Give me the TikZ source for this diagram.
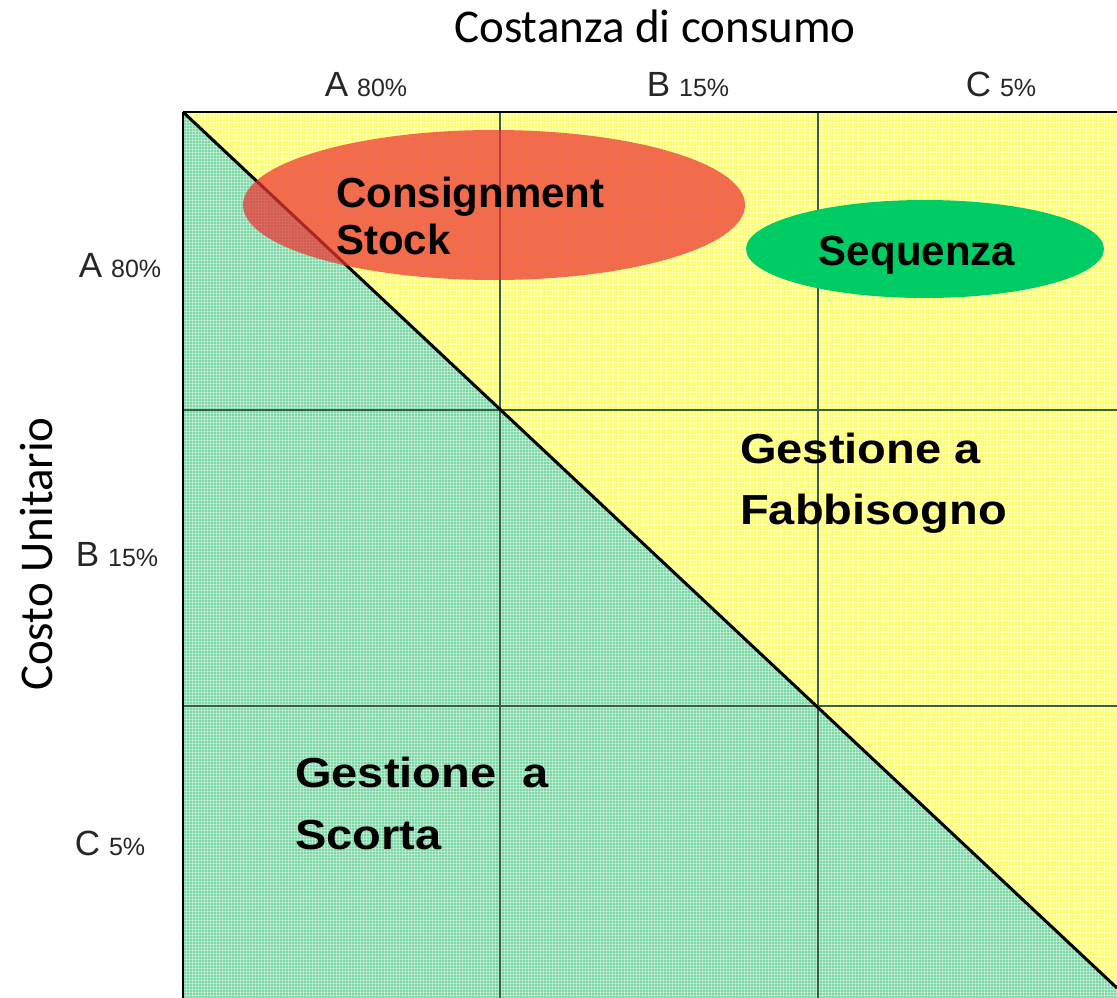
\documentclass[tikz,border=0pt]{standalone}
\usepackage{fontspec}
\setmainfont{Liberation Sans}
\newfontfamily\calfont{Carlito}
\usetikzlibrary{shapes.geometric,patterns}
\definecolor{gfill}{RGB}{122,216,164}
\definecolor{yfill}{RGB}{255,255,105}
\definecolor{rfill}{RGB}{236,52,50}
\definecolor{sgreen}{RGB}{0,204,102}
\definecolor{gridc}{RGB}{55,95,65}
\newcommand{\axl}[2]{\fontsize{35}{36}\selectfont #1\hspace{9pt}\fontsize{25}{28}\selectfont #2}
\newcommand{\wide}[1]{\scalebox{1.12}[1]{#1}}
\begin{document}
\begin{tikzpicture}[x=1pt,y=-1pt,
  bigtxt/.style={font=\bfseries\fontsize{42}{50}\selectfont, anchor=base west, inner sep=0pt},
  axlab/.style={anchor=base, inner sep=0pt, text=black!85},
  title/.style={font=\calfont\fontsize{47}{52}\selectfont, inner sep=0pt},
  gridline/.style={draw=gridc, line width=1.2pt},
  frameline/.style={draw=black, line width=2.2pt},
  diagline/.style={draw=black, line width=3pt}]
\useasboundingbox (0,0) rectangle (1117,998);
% corner coordinates
\coordinate (tl) at (183,112);
\coordinate (tr) at (1117,112);
\coordinate (bl) at (183,998);
\coordinate (br) at (1117,998);
\coordinate (dend) at (1117,988);
\coordinate (v1t) at (500,112);
\coordinate (v1b) at (500,998);
\coordinate (v2t) at (818,112);
\coordinate (v2b) at (818,998);
\coordinate (h1l) at (183,410);
\coordinate (h1r) at (1117,410);
\coordinate (h2l) at (183,706);
\coordinate (h2r) at (1117,706);
% regions
\fill[yfill] (tl) rectangle (br);
\fill[gfill] (tl) -- (dend) -- (br) -- (bl) -- cycle;
\fill[pattern=grid, pattern color=white, opacity=0.4] (tl) rectangle (br);
% grid
\draw[gridline] (v1t) -- (v1b);
\draw[gridline] (v2t) -- (v2b);
\draw[gridline] (h1l) -- (h1r);
\draw[gridline] (h2l) -- (h2r);
% frame and diagonal
\draw[frameline] (tl) -- (tr);
\draw[frameline] (tl) -- (bl);
\draw[diagline] (tl) -- (dend);
% ellipses
\node[ellipse, fill=rfill, fill opacity=0.72, minimum width=502pt, minimum height=150pt, inner sep=0pt] (cons) at (494,205) {};
\node[ellipse, fill=sgreen, minimum width=358pt, minimum height=98pt, inner sep=0pt] (seq) at (925,249) {};
% texts
\node[bigtxt] (c1) at (336,207) {Consignment};
\node[bigtxt] (c2) at (336,254) {Stock};
\node[bigtxt, anchor=base] (sq) at (917,265) {Sequenza};
\node[bigtxt] (f1) at (740,463) {\wide{Gestione a}};
\node[bigtxt] (f2) at (740,524) {\wide{Fabbisogno}};
\node[bigtxt] (s1) at (295,787) {\wide{Gestione\ \ a}};
\node[bigtxt] (s2) at (295,849) {\wide{Scorta}};
% axis titles
\node[title, anchor=base] (xt) at (655,43) {Costanza di consumo};
\node[title, anchor=base, rotate=90] (yt) at (52,554) {Costo Unitario};
% axis labels
\node[axlab] (ca) at (366,96) {\axl{A}{80\%}};
\node[axlab] (cb) at (688,96) {\axl{B}{15\%}};
\node[axlab] (cc) at (1001,96) {\axl{C}{5\%}};
\node[axlab] (ra) at (120,277) {\axl{A}{80\%}};
\node[axlab] (rb) at (117,566) {\axl{B}{15\%}};
\node[axlab] (rc) at (110,855) {\axl{C}{5\%}};
\end{tikzpicture}
\end{document}
